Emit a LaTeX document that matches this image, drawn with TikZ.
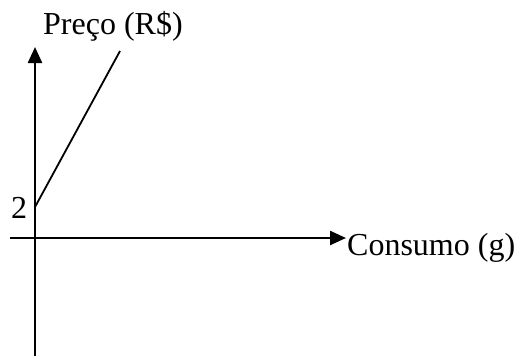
\documentclass[tikz,border=0pt]{standalone}
\usepackage{fontspec}
\setmainfont{Liberation Serif}
\usetikzlibrary{arrows.meta}

\tikzset{
  axis/.style={black, line width=2.4pt, -{Triangle[length=16pt,width=14pt]}},
  graph/.style={black, line width=1.8pt},
  lbl/.style={inner sep=0pt, font=\fontsize{32}{38}\selectfont}
}

\begin{document}
\begin{tikzpicture}[x=1pt,y=-1pt]
\useasboundingbox (0,0) rectangle (518,356);
% axes
\coordinate (xstart) at (10,238);
\coordinate (xend) at (346,238);
\coordinate (ystart) at (35,356);
\coordinate (yend) at (35,47);
\draw[axis] (xstart)--(xend);
\draw[axis] (ystart)--(yend);
% labels
\node[lbl, anchor=base west] (preco) at (43,34) {Preço (R\$)};
\node[lbl, anchor=base west] (consumo) at (347,255) {Consumo (g)};
\node[lbl] (dois) at (19,208) {2};
% price line
\coordinate (p0) at (35,207);
\coordinate (p1) at (120,51);
\draw[graph] (p0)--(p1);
\end{tikzpicture}
\end{document}
